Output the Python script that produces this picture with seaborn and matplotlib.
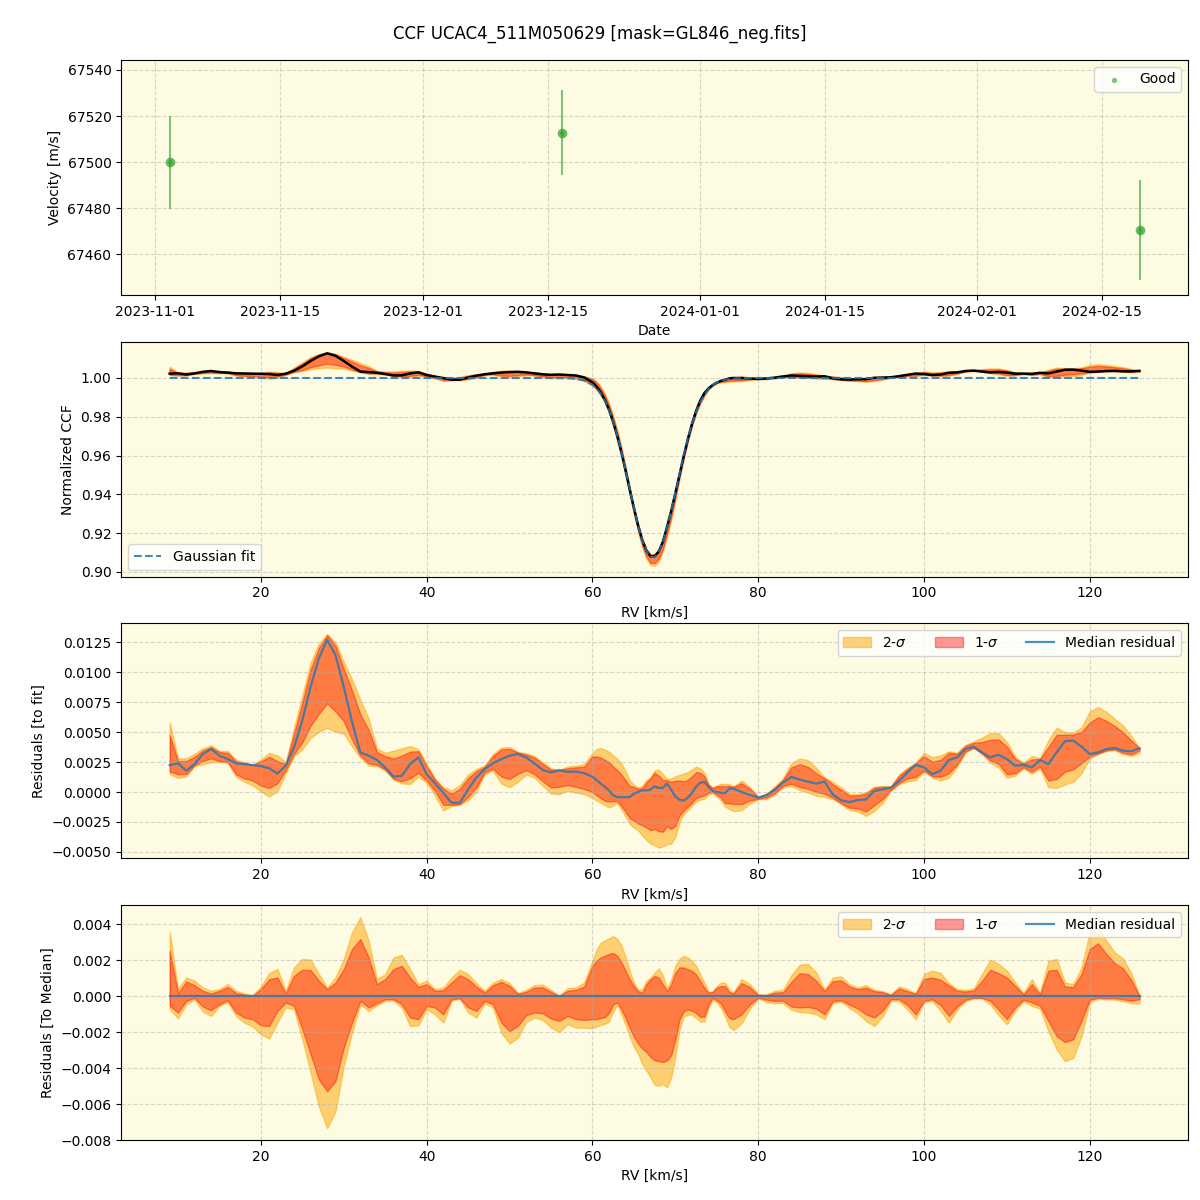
import numpy as np
import pandas as pd
import matplotlib
matplotlib.use('Agg')
import matplotlib.pyplot as plt
import seaborn as sns

# ---------------- data ----------------
obs_dates = ['2023-11-02 16:00', '2023-12-16 14:00', '2024-02-19 06:00']
obs_rv = [67500.0, 67512.8, 67470.6]
obs_err = [20.2, 18.4, 21.6]
vel_limits = [67442.5, 67544.3]
resid_median_limits = [-0.0080, 0.00506]

# RV grid (km/s): 1 km/s steps, 0.5 km/s steps across the line core
rv_grid = np.concatenate([np.arange(9.0, 60.0, 1.0),
                          np.arange(60.0, 77.5, 0.5),
                          np.arange(78.0, 127.0, 1.0)])

# Gaussian fit parameters
fit_cont = 1.0
fit_depth = 0.0927
fit_center = 67.3
fit_sigma = 2.85

# median residual to fit (units of 1e-4)
median_resid = [22.4, 24.0, 17.7, 23.3, 31.7, 35.9, 30.3, 27.5, 23.9, 23.3,
                22.4, 21.6, 19.9, 15.4, 21.9, 37.3, 59.8, 87.8, 111.7, 127.0,
                114.5, 87.8, 58.4, 33.1, 30.3, 26.7, 20.5, 12.9, 13.5, 23.3,
                28.9, 14.9, 7.3, -0.6, -9.0, -9.0, 2.2, 12.1, 19.1, 23.9,
                27.5, 30.3, 31.7, 28.9, 23.9, 18.5, 16.3, 18.2, 16.8, 17.1,
                15.7,
                12.8, 9.9, 7.1, 4.3, 1.4, -2.8, -4.3, -4.3, -4.3, -4.3,
                -1.4, 0.0, 1.4, 1.4, 2.0, 4.8, 3.4, 3.4, 7.1, 2.0,
                -3.7, -6.5, -7.1, -4.8, -0.9, 4.3, 7.7, 8.5, 4.3, 0.9,
                0.0, -0.6, -0.9, 2.8, 2.8,
                0.0, -2.5, -4.8, -2.5, 1.7, 7.9, 12.6, 10.4, 8.7, 7.0, 8.7,
                -2.0, -7.0, -8.4, -6.7, -6.2, 0.8, 2.2, 3.6, 9.3, 16.3,
                22.7, 20.5, 14.9, 17.7, 26.7, 28.9, 35.9, 37.9, 33.1, 28.9,
                31.1, 27.5, 21.9, 22.7, 20.5, 26.7, 23.3, 33.1, 42.4, 42.9,
                37.9, 31.7, 33.1, 35.9, 36.8, 34.5, 34.0, 36.5]

# band offsets relative to the median (units of 1e-4)
hi2_off = [35.6, 3.9, 10.4, 8.6, 4.8, 3.0, 3.9, 6.7, 3.0, 1.5,
           0.6, 5.4, 12.8, 15.1, 3.0, 16.0, 20.7, 20.3, 12.3, 4.8,
           10.4, 20.7, 35.6, 43.9, 30.9, 9.5, 12.3, 21.6, 22.9, 15.1,
           6.7, 8.6, 3.9, 4.8, 10.4, 14.7, 12.3, 7.3, 3.0, 7.6,
           9.5, 7.3, 1.7, 3.5, 6.1, 6.5, 3.5, 0.2, 4.5, 4.8,
           7.6,
           19.7, 25.9, 29.7, 31.0, 32.3, 33.4, 31.9, 28.2, 21.6, 14.1,
           7.5, 3.8, 3.8, 8.5, 10.3, 13.1, 15.4, 11.6, 4.1, 9.4,
           16.9, 20.7, 22.5, 21.6, 19.7, 16.9, 12.2, 7.5, 2.3, 2.8,
           5.6, 7.5, 7.5, 3.8, 1.9,
           9.5, 6.7, 1.1, 0.9, 3.0, 3.5, 11.7, 17.5, 17.9, 13.2, 3.5,
           10.4, 11.0, 6.7, 4.8, 6.1, 3.5, 2.8, 1.1, 5.4, 3.9,
           1.7, 12.3, 14.2, 12.8, 7.3, 3.9, 3.5, 4.3, 12.3, 20.3,
           17.9, 14.2, 7.6, 1.7, 9.5, 1.7, 19.7, 20.7, 7.6, 6.7,
           16.0, 35.6, 37.8, 30.9, 24.4, 21.0, 12.8, 0.2]
hi1_off = [25.3, 1.7, 8.2, 6.1, 3.0, 1.5, 3.0, 5.2, 1.7, 0.9,
           0.2, 3.9, 9.5, 10.4, 1.5, 11.4, 14.7, 14.5, 8.6, 3.9,
           7.6, 15.1, 26.3, 31.8, 21.6, 6.7, 9.5, 15.1, 16.9, 10.4,
           5.2, 6.7, 3.0, 3.4, 7.6, 11.7, 9.5, 5.4, 2.0, 6.1,
           8.0, 5.8, 1.3, 2.4, 4.8, 5.0, 2.4, 0.2, 3.0, 3.5,
           5.4,
           16.9, 19.7, 21.6, 22.5, 23.5, 24.0, 22.5, 18.8, 14.1, 9.4,
           5.6, 2.8, 1.9, 6.6, 9.4, 11.3, 10.3, 6.6, 2.8, 6.6,
           13.1, 16.0, 16.0, 15.0, 14.1, 12.2, 8.5, 4.7, 1.9, 2.3,
           4.7, 5.6, 5.6, 2.3, 1.5,
           7.3, 5.0, 0.7, 0.6, 2.0, 2.2, 8.0, 12.8, 12.3, 8.6, 2.8,
           8.4, 8.8, 5.4, 3.9, 4.7, 2.8, 2.2, 0.7, 4.3, 2.8,
           1.3, 9.5, 10.4, 9.1, 6.1, 3.0, 2.6, 3.2, 8.6, 14.7,
           12.8, 10.4, 5.8, 0.9, 6.7, 0.9, 14.2, 14.7, 5.4, 5.0,
           12.3, 26.3, 29.4, 23.5, 18.4, 15.5, 9.1, 0.0]
lo1_off = [-5.4, -9.1, -2.6, -0.9, -5.8, -7.8, -4.5, -2.2, -9.1, -11.9,
           -12.8, -16.2, -16.6, -8.2, -3.5, -5.4, -18.4, -32.4, -46.4, -52.9,
           -47.3, -28.7, -14.7, -2.6, -6.3, -3.9, -1.7, -1.7, -4.5, -11.9,
           -12.8, -5.4, -6.3, -10.1, -1.7, -1.1, -6.3, -8.2, -2.6, -4.5,
           -14.7, -19.4, -16.6, -10.6, -9.1, -9.5, -12.5, -13.8, -11.0, -12.8,
           -13.2,
           -12.8, -12.8, -12.2, -11.6, -9.4, -4.7, -3.4, -7.5, -12.2, -17.8,
           -22.5, -26.3, -29.1, -31.0, -33.8, -35.7, -36.1, -36.6, -35.7, -32.9,
           -24.4, -13.1, -8.5, -7.5, -8.1, -9.4, -11.6, -11.3, -4.7, -0.9,
           -2.3, -4.1, -8.5, -12.2, -12.8,
           -10.1, -4.5, -0.9, -2.0, -2.6, -2.6, -5.8, -6.3, -6.0, -6.9, -10.1,
           -2.8, -2.2, -4.7, -6.9, -10.1, -11.9, -8.2, -1.7, -1.7, -5.0,
           -10.1, -2.6, -1.7, -5.0, -11.0, -5.8, -2.0, -0.9, -0.9, -2.6,
           -7.6, -12.8, -6.3, -2.0, -3.5, -5.4, -13.8, -22.2, -25.5, -24.0,
           -13.8, -2.0, -0.9, -1.1, -1.1, -1.7, -2.6, -1.7]
lo2_off = [-7.3, -12.3, -4.5, -1.7, -8.6, -11.0, -5.4, -3.2, -11.0, -14.7,
           -16.9, -21.2, -23.6, -14.7, -6.3, -7.3, -24.0, -42.6, -61.3, -73.4,
           -64.1, -38.9, -20.3, -4.5, -8.2, -5.0, -2.6, -2.4, -6.3, -16.6,
           -16.2, -7.3, -10.1, -14.7, -2.6, -1.3, -9.1, -11.9, -3.9, -6.3,
           -20.3, -26.3, -23.1, -14.3, -11.9, -13.2, -17.5, -19.9, -15.6, -17.5,
           -17.5,
           -17.8, -16.9, -16.0, -15.4, -14.1, -8.5, -4.7, -10.3, -16.0, -22.5,
           -28.2, -31.9, -37.6, -41.3, -45.1, -49.2, -49.8, -48.8, -50.7, -45.1,
           -33.8, -18.8, -11.3, -10.3, -10.3, -12.2, -14.1, -14.1, -6.6, -1.9,
           -3.4, -6.6, -11.3, -16.9, -18.8,
           -15.1, -6.9, -1.3, -3.2, -3.9, -3.9, -7.6, -8.8, -9.1, -10.1, -12.8,
           -3.9, -3.0, -6.5, -9.5, -13.8, -16.6, -11.4, -2.6, -2.8, -7.3,
           -12.8, -3.5, -2.6, -8.2, -14.7, -7.6, -2.8, -1.3, -1.3, -4.5,
           -10.6, -15.6, -8.2, -2.8, -5.4, -6.9, -19.4, -29.6, -36.1, -34.3,
           -22.2, -3.5, -1.5, -1.7, -1.9, -2.8, -3.9, -3.9]

# ---------------- derived ----------------
rv = rv_grid
scale = 1e-4
med = np.array(median_resid) * scale
hi2 = np.array(hi2_off) * scale
hi1 = np.array(hi1_off) * scale
lo1 = np.array(lo1_off) * scale
lo2 = np.array(lo2_off) * scale
n = len(rv)
assert len(med) == n and len(hi2) == n and len(hi1) == n and len(lo1) == n and len(lo2) == n, \
    (n, len(med), len(hi2), len(hi1), len(lo1), len(lo2))
fit = fit_cont - fit_depth * np.exp(-0.5 * ((rv - fit_center) / fit_sigma) ** 2)
ccf = fit + med

dates = pd.to_datetime(obs_dates)

bg = '#fdfbe2'
gold = 'orange'
red = 'red'
blue = '#1f77b4'

fig, axes = plt.subplots(4, 1, figsize=(12, 12), dpi=100)
fig.subplots_adjust(left=0.101, right=0.99, top=0.95, bottom=0.05, hspace=0.2)
fig.suptitle('CCF UCAC4_511M050629 [mask=GL846_neg.fits]', fontsize=12, y=0.979)

for ax in axes:
    ax.set_facecolor(bg)
    ax.grid(True, linestyle='--', color='#b0b0b0', alpha=0.5)

# Panel 1
ax = axes[0]
ax.errorbar(dates, obs_rv, yerr=obs_err, fmt='o', color='tab:green', alpha=0.6, ms=6)
sns.scatterplot(x=dates, y=obs_rv, color='tab:green', s=15, alpha=0.6,
                linewidth=0, label='Good', ax=ax)
ax.set_ylim(vel_limits)
ax.set_xlabel('Date')
ax.set_ylabel('Velocity [m/s]')
ax.legend(loc='upper right')

# Panel 2
ax = axes[1]
ax.fill_between(rv, ccf + lo2, ccf + hi2, color=gold, alpha=0.5)
ax.fill_between(rv, ccf + lo1, ccf + hi1, color=red, alpha=0.4)
sns.lineplot(x=rv, y=ccf, color='black', linewidth=1.8, estimator=None, sort=False, ax=ax)
sns.lineplot(x=rv, y=fit, color=blue, alpha=0.85, linestyle='--', linewidth=1.5,
             estimator=None, sort=False, label='Gaussian fit', ax=ax)
ax.set_xlabel('RV [km/s]')
ax.set_ylabel('Normalized CCF')
ax.legend(loc='lower left')

# Panel 3
ax = axes[2]
ax.fill_between(rv, med + lo2, med + hi2, color=gold, alpha=0.5, label='2-$\\sigma$')
ax.fill_between(rv, med + lo1, med + hi1, color=red, alpha=0.4, label='1-$\\sigma$')
sns.lineplot(x=rv, y=med, color=blue, alpha=0.8, linewidth=1.6, estimator=None,
             sort=False, label='Median residual', ax=ax)
ax.set_xlabel('RV [km/s]')
ax.set_ylabel('Residuals [to fit]')
ax.legend(loc='upper right', ncol=3)

# Panel 4
ax = axes[3]
zero = med - med
ax.fill_between(rv, lo2, hi2, color=gold, alpha=0.5, label='2-$\\sigma$')
ax.fill_between(rv, lo1, hi1, color=red, alpha=0.4, label='1-$\\sigma$')
sns.lineplot(x=rv, y=zero, color=blue, alpha=0.8, linewidth=1.6, estimator=None,
             sort=False, label='Median residual', ax=ax)
ax.set_ylim(resid_median_limits)
ax.set_xlabel('RV [km/s]')
ax.set_ylabel('Residuals [To Median]')
ax.legend(loc='upper right', ncol=3)

fig.savefig('out.png', dpi=100)
